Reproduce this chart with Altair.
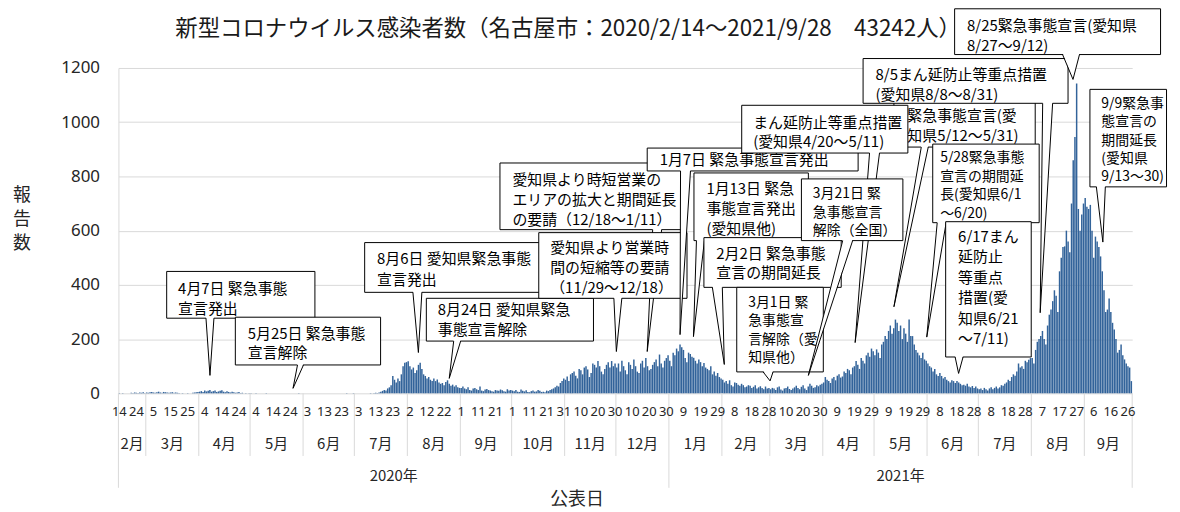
import altair as alt
import numpy as np
import pandas as pd

# ---------------- data (daily reported cases, Nagoya) ----------------
START = "2020-02-14"
END = "2021-09-28"

feb20 = [1, 0, 1, 0, 0, 0, 0, 2, 1, 3, 2, 1, 3, 2, 4, 1]
mar20 = [3, 2, 4, 5, 3, 2, 4, 6, 3, 2, 5, 4, 3, 2, 3, 4, 2, 3, 2, 1, 0, 1, 0, 0, 1, 0, 0, 2, 3, 4, 5]
apr20 = [6, 8, 5, 10, 7, 9, 12, 6, 8, 10, 5, 7, 9, 11, 6, 4, 8, 5, 3, 6, 4, 2, 3, 5, 1, 2, 0, 1, 0, 1]
may20 = [1, 0, 0, 1, 0, 0, 0, 0, 0, 1, 0, 0, 0, 0, 0, 0, 0, 0, 0, 0, 0, 0, 0, 0, 0, 0, 0, 0, 1, 0, 0]
jun20 = [0, 0, 0, 0, 0, 0, 0, 0, 0, 0, 0, 0, 0, 0, 0, 0, 0, 0, 0, 0, 0, 0, 0, 0, 0, 1, 0, 0, 0, 1]
jul20 = [0, 0, 0, 0, 0, 0, 0, 0, 0, 1, 0, 1, 2, 1, 3, 6, 9, 12, 10, 18, 22, 30, 64, 50, 40, 55, 45, 70, 100, 113, 115]
aug20 = [118, 100, 88, 95, 75, 85, 105, 113, 90, 70, 64, 55, 60, 50, 45, 55, 45, 51, 40, 35, 38, 30, 42, 48, 35, 28, 32, 25, 30, 22, 20]
sep20 = [20, 25, 18, 15, 22, 12, 10, 18, 20, 15, 12, 25, 10, 8, 14, 16, 12, 10, 8, 6, 12, 10, 9, 14, 11, 8, 6, 15, 10, 12]
oct20 = [10, 8, 12, 6, 5, 14, 9, 7, 11, 5, 4, 8, 10, 6, 7, 12, 9, 5, 6, 4, 10, 8, 12, 15, 18, 22, 28, 25, 38, 45, 55]
nov20 = [50, 62, 45, 70, 75, 80, 65, 55, 90, 85, 70, 95, 100, 88, 60, 75, 110, 105, 95, 119, 100, 80, 70, 90, 105, 115, 95, 119, 100, 110]
dec20 = [95, 110, 80, 120, 100, 85, 70, 115, 105, 90, 125, 100, 80, 75, 110, 120, 95, 130, 100, 85, 90, 105, 115, 125, 100, 143, 110, 95, 120, 130, 140]
jan21 = [120, 100, 150, 140, 165, 155, 180, 170, 160, 130, 115, 150, 145, 135, 131, 120, 110, 125, 115, 100, 112, 95, 90, 85, 100, 70, 80, 65, 75, 60, 55]
feb21 = [50, 40, 45, 35, 48, 30, 25, 40, 38, 32, 28, 35, 30, 22, 25, 30, 28, 20, 24, 30, 18, 22, 26, 20, 15, 25, 18, 20]
mar21 = [15, 20, 18, 12, 22, 25, 14, 10, 18, 20, 25, 16, 12, 18, 22, 28, 20, 15, 24, 30, 18, 12, 25, 35, 28, 20, 22, 30, 26, 32, 35]
apr21 = [40, 60, 50, 45, 38, 55, 60, 48, 65, 70, 58, 62, 80, 75, 90, 85, 70, 95, 100, 119, 105, 90, 130, 120, 110, 140, 150, 135, 165, 155]
may21 = [140, 162, 150, 130, 180, 190, 211, 200, 230, 250, 220, 240, 272, 260, 230, 250, 200, 240, 220, 190, 272, 211, 211, 180, 160, 150, 140, 130, 150, 125, 120]
jun21 = [110, 100, 95, 80, 90, 70, 64, 75, 64, 55, 60, 50, 45, 40, 48, 45, 38, 45, 40, 35, 30, 32, 28, 35, 25, 22, 27, 20, 25, 18]
jul21 = [15, 18, 12, 20, 15, 10, 18, 22, 15, 20, 25, 18, 22, 30, 28, 35, 40, 50, 45, 60, 70, 65, 80, 110, 95, 100, 90, 120, 115, 124, 130]
aug21 = [130, 110, 160, 190, 200, 211, 230, 200, 180, 250, 290, 309, 340, 380, 360, 300, 450, 500, 540, 542, 600, 560, 520, 700, 860, 945, 1143, 680, 600, 660, 700]
sep21 = [720, 688, 680, 695, 600, 500, 578, 560, 540, 505, 450, 380, 300, 309, 350, 300, 260, 235, 200, 150, 160, 180, 140, 125, 110, 100, 95, 45]

counts = (feb20 + mar20 + apr20 + may20 + jun20 + jul20 + aug20 + sep20 + oct20 + nov20 + dec20
          + jan21 + feb21 + mar21 + apr21 + may21 + jun21 + jul21 + aug21 + sep21)

month_names = ["2月", "3月", "4月", "5月", "6月", "7月", "8月", "9月", "10月", "11月", "12月",
               "1月", "2月", "3月", "4月", "5月", "6月", "7月", "8月", "9月"]
year_names = ["2020年", "2021年"]
y_ticks = [0, 200, 400, 600, 800, 1000, 1200]

TITLE = "新型コロナウイルス感染者数（名古屋市：2020/2/14～2021/9/28　43242人）"
X_TITLE = "公表日"
Y_TITLE = ["報", "告", "数"]

# annotation callouts (page pixel layout, z-order = list order)
callouts = [
    dict(box=(167, 271, 316, 318), lines=["4月7日 緊急事態", "宣言発出"], tx=179, ly=[289, 309], fs=15, base=(207, 215), tip=(211, 376)),
    dict(box=(236, 317, 382, 365), lines=["5月25日 緊急事態", "宣言解除"], tx=249, ly=[334, 354], fs=15, base=(299, 305), tip=(294.5, 389)),
    dict(box=(366, 242, 548, 292), lines=["8月6日 愛知県緊急事態", "宣言発出"], tx=379, ly=[259, 280], fs=15, base=(415, 424), tip=(420.5, 353)),
    dict(box=(428, 298, 596, 341), lines=["8月24日 愛知県緊急", "事態宣言解除"], tx=440, ly=[310, 330], fs=15, base=(456, 463), tip=(451.5, 379)),
    dict(box=(502, 162, 685, 229), lines=["愛知県より時短営業の", "エリアの拡大と期間延長", "の要請（12/18～1/11）"], tx=515, ly=[180, 200, 220], fs=15, base=(656, 665), tip=(650.5, 352)),
    dict(box=(541, 232, 690, 298), lines=["愛知県より営業時", "間の短縮等の要請", "（11/29～12/18）"], tx=553, ly=[248, 268, 288], fs=15, base=(617, 625), tip=(619.5, 352)),
    dict(box=(650, 147, 862, 170), lines=["1月7日 緊急事態宣言発出"], tx=663, ly=[160], fs=15, base=(684, 694), tip=(683.5, 335)),
    dict(box=(697, 172, 812, 240), lines=["1月13日 緊急", "事態宣言発出", "(愛知県他)"], tx=710, ly=[189, 209, 229], fs=15, base=(700, 708), tip=(697, 337)),
    dict(box=(707, 237, 845, 287), lines=["2月2日 緊急事態", "宣言の期間延長"], tx=720, ly=[254, 273], fs=15, base=(716, 726), tip=(728, 365)),
    dict(box=(740, 287, 827, 372), lines=["3月1日 緊", "急事態宣", "言解除（愛", "知県他）"], tx=752, ly=[303, 321.5, 340, 358.5], fs=14, base=(767, 777), tip=(774, 381.5)),
    dict(box=(898, 98, 1040, 146), lines=["緊急事態宣言(愛", "知県5/12～5/31)"], tx=912, ly=[115, 135], fs=15, base=(926, 933), tip=(898.5, 307)),
    dict(box=(745, 104, 912, 152), lines=["まん延防止等重点措置", "(愛知県4/20～5/11)"], tx=757, ly=[122, 141.5], fs=15, base=(874, 884), tip=(859.5, 343)),
    dict(box=(805, 178, 907, 240), lines=["3月21日 緊", "急事態宣言", "解除（全国）"], tx=817, ly=[194, 212.5, 231], fs=14, base=(847, 857), tip=(812.5, 376)),
    dict(box=(867, 57, 1073, 102), lines=["8/5まん延防止等重点措置", "(愛知県8/8～8/31)"], tx=880, ly=[74, 94], fs=15, base=(1048, 1058), tip=(1045.5, 313)),
    dict(box=(937, 143, 1044, 222), lines=["5/28緊急事態", "宣言の期間延", "長(愛知県6/1", "～6/20)"], tx=945, ly=[158, 176.5, 195, 213.5], fs=14, base=(942, 951), tip=(931.5, 337.5)),
    dict(box=(950, 221, 1036, 357), lines=["6/17まん", "延防止", "等重点", "措置(愛", "知県6/21", "～7/11)"], tx=963, ly=[237, 257.5, 278, 298.5, 319, 339], fs=15, base=(960, 968), tip=(963.5, 374)),
    dict(box=(959, 7, 1166, 53), lines=["8/25緊急事態宣言(愛知県", "8/27～9/12)"], tx=972, ly=[25, 45], fs=15, base=(1068, 1085), tip=(1078.5, 78.5)),
    dict(box=(1095, 88, 1172, 186), lines=["9/9緊急事", "態宣言の", "期間延長", "(愛知県", "9/13～30)"], tx=1107, ly=[103, 121.5, 140, 158.5, 177], fs=14, base=(1102, 1111), tip=(1108.5, 242)),
]

# ---------------- geometry / style ----------------
OX, OY = 119, 67          # page position of plot origin
W, H = 1019, 327
FONT_JP = "Noto Sans CJK JP"
FONT_NUM = "Noto Sans"
BAR = "#32639A"
GRID = "#d9d9d9"
TXT = "#262626"

dates = pd.date_range(START, END, freq="D")
assert len(counts) == len(dates), (len(counts), len(dates))
N = len(dates)

bar_df = pd.DataFrame({
    "i0": np.arange(N) + 0.07,
    "i1": np.arange(N) + 0.93,
    "count": counts,
    "date": dates.strftime("%Y-%m-%d"),
})

xs = alt.Scale(domain=[0, N], nice=False, zero=False)
ys = alt.Scale(domain=[0, 1200], nice=False)

bars = alt.Chart(bar_df).mark_rect(color=BAR).encode(
    x=alt.X("i0:Q", scale=xs, axis=None),
    x2="i1:Q",
    y=alt.Y("count:Q", scale=ys,
            axis=alt.Axis(values=y_ticks, format="d", grid=True, gridColor=GRID, gridWidth=1,
                          domain=True, domainColor=GRID, ticks=False,
                          labelFont=FONT_NUM, labelFontSize=17, labelColor=TXT,
                          labelPadding=19, title=None)),
    y2=alt.datum(0),
)

# day labels every 10 days
tick_dates = pd.date_range(START, END, freq="10D")
day_df = pd.DataFrame({
    "pos": (tick_dates - dates[0]).days + 0.5,
    "label": [str(d.day) for d in tick_dates],
})
day_text = alt.Chart(day_df).mark_text(font=FONT_NUM, fontSize=13, color=TXT,
                                       baseline="middle", align="center").encode(
    x=alt.X("pos:Q", scale=xs, axis=None), y=alt.value(413 - OY), text="label:N")

# month spans
month_starts = pd.date_range("2020-03-01", "2021-09-01", freq="MS")
bounds = [0] + [(m - dates[0]).days for m in month_starts] + [N]
assert len(bounds) - 1 == len(month_names)
month_df = pd.DataFrame({
    "mid": [(a + b) / 2 for a, b in zip(bounds[:-1], bounds[1:])],
    "label": month_names,
})
month_text = alt.Chart(month_df).mark_text(font=FONT_JP, fontSize=15, color=TXT,
                                           baseline="middle", align="center").encode(
    x=alt.X("mid:Q", scale=xs, axis=None), y=alt.value(445 - OY), text="label:N")

year_bounds = [0, (pd.Timestamp("2021-01-01") - dates[0]).days, N]
inner = [b for b in bounds if b not in year_bounds]
mrule = alt.Chart(pd.DataFrame({"b": inner})).mark_rule(color=GRID, strokeWidth=1).encode(
    x=alt.X("b:Q", scale=xs, axis=None), y=alt.value(H), y2=alt.value(457 - OY))
yrule = alt.Chart(pd.DataFrame({"b": year_bounds})).mark_rule(color=GRID, strokeWidth=1).encode(
    x=alt.X("b:Q", scale=xs, axis=None), y=alt.value(H), y2=alt.value(489 - OY))

year_df = pd.DataFrame({
    "mid": [(a + b) / 2 for a, b in zip(year_bounds[:-1], year_bounds[1:])],
    "label": year_names,
})
year_text = alt.Chart(year_df).mark_text(font=FONT_JP, fontSize=15, color=TXT,
                                         baseline="middle", align="center").encode(
    x=alt.X("mid:Q", scale=xs, axis=None), y=alt.value(477 - OY), text="label:N")


def pix_text(rows, size, color=TXT, align="center"):
    df = pd.DataFrame(rows, columns=["px", "py", "t"])
    return alt.Chart(df).mark_text(font=FONT_JP, fontSize=size, color=color,
                                   baseline="middle", align=align).encode(
        x=alt.X("px:Q", scale=None, axis=None),
        y=alt.Y("py:Q", scale=None, axis=None),
        text="t:N")


title = pix_text([(571 - OX, 28 - OY, TITLE)], 22.5, color="#1a1a1a")
x_title = pix_text([(580 - OX, 501 - OY, X_TITLE)], 18)
y_title = pix_text([(22 - OX, yy - OY, ch) for yy, ch in zip([196, 220, 244], Y_TITLE)], 18)

layers = [bars, mrule, yrule, day_text, month_text, year_text, title, x_title, y_title]


def px(v):
    return round(v - OX) + 0.5


def py(v):
    return round(v - OY) + 0.5


for c in callouts:
    x0, y0, x1, y1 = c["box"]
    bx1, bx2 = c["base"]
    tx, ty = c["tip"]
    by = py(y1)
    box = alt.Chart(pd.DataFrame([{"a": px(x0), "b": px(x1), "c": py(y0), "d": py(y1)}])).mark_rect(
        fill="white", stroke="black", strokeWidth=1).encode(
        x=alt.X("a:Q", scale=None, axis=None), x2="b:Q",
        y=alt.Y("c:Q", scale=None, axis=None), y2="d:Q")
    wedge = alt.Chart(pd.DataFrame([
        {"wy": by - 1.5, "wa": bx1 - OX, "wb": bx2 - OX},
        {"wy": ty - OY, "wa": tx - OX, "wb": tx - OX},
    ])).mark_area(orient="horizontal", fill="white", opacity=1).encode(
        y=alt.Y("wy:Q", scale=None, axis=None),
        x=alt.X("wa:Q", scale=None, axis=None), x2="wb:Q")
    sides = alt.Chart(pd.DataFrame([
        {"lx": bx1 - OX, "ly": by, "o": 0},
        {"lx": tx - OX, "ly": ty - OY, "o": 1},
        {"lx": bx2 - OX, "ly": by, "o": 2},
    ])).mark_line(color="black", strokeWidth=1).encode(
        x=alt.X("lx:Q", scale=None, axis=None),
        y=alt.Y("ly:Q", scale=None, axis=None),
        order="o:Q")
    txt = pix_text([(c["tx"] - OX, yy - OY, s) for yy, s in zip(c["ly"], c["lines"])],
                   c["fs"], color="black", align="left")
    layers += [box, wedge, sides, txt]

chart = alt.layer(*layers).resolve_scale(x="independent", y="independent").properties(
    width=W, height=H,
    padding={"left": OX - 8, "top": OY - 8, "right": 40, "bottom": 116},
    autosize=alt.AutoSizeParams(type="none"),
    background="white",
).configure_view(stroke=None)

chart.save("out.html", embed_options={"renderer": "svg", "actions": False})
